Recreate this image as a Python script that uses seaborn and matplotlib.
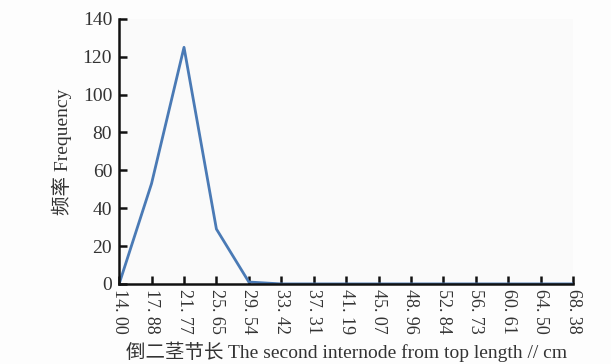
import matplotlib
matplotlib.use("Agg")
import matplotlib.pyplot as plt
import seaborn as sns
import pandas as pd

# Internode length class marks (cm) and their frequencies
lengths = [14.00, 17.88, 21.77, 25.65, 29.54, 33.42, 37.31, 41.19,
           45.07, 48.96, 52.84, 56.73, 60.61, 64.50, 68.38]
frequency = [0, 53, 125, 29, 1, 0, 0, 0, 0, 0, 0, 0, 0, 0, 0]
tick_labels = [f"{v:.2f}".replace(".", ". ") for v in lengths]
y_ticks = [0, 20, 40, 60, 80, 100, 120, 140]

sns.set_theme(style="white")
plt.rcParams["font.family"] = ["Liberation Serif", "Noto Sans CJK SC"]

df = pd.DataFrame({"length": lengths, "freq": frequency})

fig = plt.figure(figsize=(6.11, 3.64), dpi=100, facecolor="#fdfdfd")
ax = fig.add_axes([0.195, 0.22, 0.743, 0.728])
ax.set_facecolor("#fafafa")

sns.lineplot(data=df, x="length", y="freq", ax=ax, color="#4a7ab5",
             linewidth=2.0)

ax.set_xlim(lengths[0], lengths[-1])
ax.set_ylim(0, 140)
ax.set_xticks(lengths)
ax.set_xticklabels(tick_labels, rotation=-90, fontsize=13, color="#333333")
ax.set_yticks(y_ticks)
ax.set_yticklabels([str(v) for v in y_ticks], fontsize=14, color="#333333")

for side in ("top", "right"):
    ax.spines[side].set_visible(False)
for side in ("left", "bottom"):
    ax.spines[side].set_color("#111111")
    ax.spines[side].set_linewidth(1.8)

ax.tick_params(axis="both", direction="in", length=6, width=1.8,
               color="#111111")
ax.tick_params(axis="x", bottom=True, pad=4)
ax.tick_params(axis="y", left=True, pad=5)

ax.set_xlabel("倒二茎节长 The second internode from top length // cm",
              fontsize=14, color="#333333", labelpad=5,
              family=["Liberation Serif", "Noto Sans CJK SC"])
ax.set_ylabel("频率 Frequency", fontsize=14, color="#333333", labelpad=8,
              family=["Liberation Serif", "Noto Sans CJK SC"])

fig.savefig("out.png", dpi=100, facecolor=fig.get_facecolor())
